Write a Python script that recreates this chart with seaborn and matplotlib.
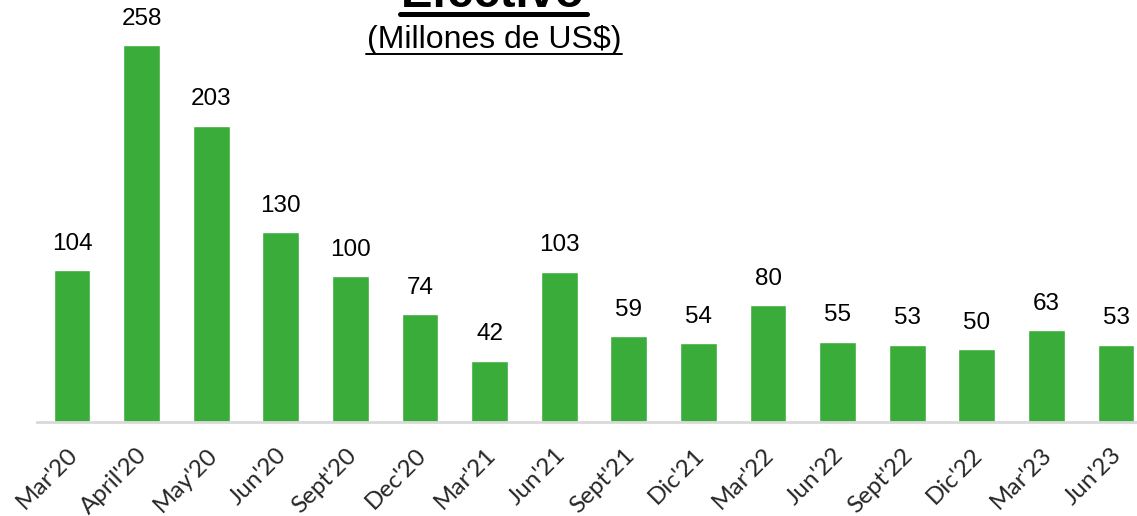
import matplotlib
matplotlib.use("Agg")
import matplotlib.pyplot as plt
import matplotlib.transforms as mtransforms
import seaborn as sns
import pandas as pd
from matplotlib.lines import Line2D

categories = ["Mar'20", "April'20", "May'20", "Jun'20", "Sept'20", "Dec'20", "Mar'21", "Jun'21",
              "Sept'21", "Dic'21", "Mar'22", "Jun'22", "Sept'22", "Dic'22", "Mar'23", "Jun'23"]
values = [104, 258, 203, 130, 100, 74, 42, 103, 59, 54, 80, 55, 53, 50, 63, 53]
title_text = "Efectivo"
subtitle_text = "(Millones de US$)"

sns.set_theme(style="white")
plt.rcParams['font.family'] = ['Liberation Sans', 'DejaVu Sans']

W, H = 1137, 516
fig = plt.figure(figsize=(W / 100, H / 100), dpi=100)
ax = fig.add_axes([37.2 / W, 94 / H, 1113.6 / W, 422 / H])

df = pd.DataFrame({"cat": categories, "val": values})
sns.barplot(data=df, x="cat", y="val", color="#3AAC3A", saturation=1, width=0.53, ax=ax)

ax.set_xlim(-0.5, len(categories) - 0.5)
ax.set_ylim(0, 289)
ax.set_xlabel("")
ax.set_ylabel("")
ax.set_yticks([])
for s in ["top", "left", "right"]:
    ax.spines[s].set_visible(False)
ax.spines["bottom"].set_color("#D9D9D9")
ax.spines["bottom"].set_linewidth(2)

for c in ax.containers:
    ax.bar_label(c, labels=[str(v) for v in values], padding=11, fontsize=17.5, color="#000000")

ax.set_xticks(range(len(categories)))
ax.set_xticklabels(categories, rotation=45, ha="right", rotation_mode="anchor",
                   fontsize=17.5, family=["Lato", "DejaVu Sans"])
ax.tick_params(axis="x", length=0, pad=16)
offset = mtransforms.ScaledTranslation(-5 / 100, 0, fig.dpi_scale_trans)
for lbl in ax.get_xticklabels():
    lbl.set_transform(lbl.get_transform() + offset)

# Title (clipped at top like the reference)
fig.text(493 / W, 1 - 7 / H, title_text, ha="center", va="baseline",
         fontsize=34, fontweight="bold", color="#000000")
fig.add_artist(Line2D([400 / W, 587 / W], [1 - 13.5 / H, 1 - 13.5 / H],
                      transform=fig.transFigure, color="#000000", linewidth=3.6))
fig.text(494 / W, 1 - 48 / H, subtitle_text, ha="center", va="baseline",
         fontsize=23, color="#000000")
fig.add_artist(Line2D([366 / W, 622 / W], [1 - 53.5 / H, 1 - 53.5 / H],
                      transform=fig.transFigure, color="#000000", linewidth=1.4))

fig.savefig("out.png", dpi=100)
